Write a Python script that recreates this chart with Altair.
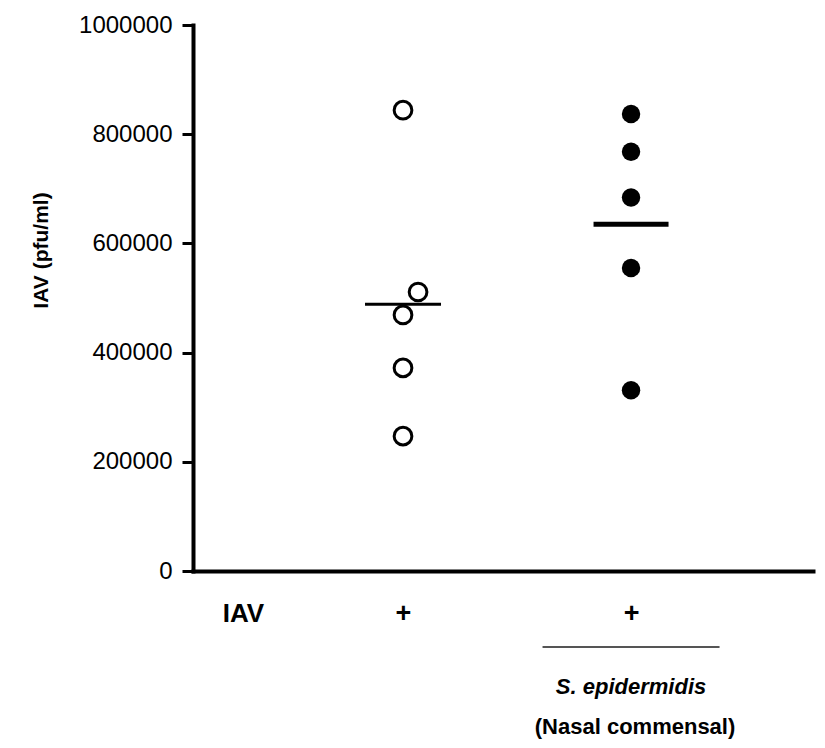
import altair as alt
import pandas as pd

# ---- data ----
iav_only = [844000, 511000, 469000, 372000, 247000]
iav_only_jitter = [0, 0.066, 0, 0, 0]
iav_sepi = [837000, 768000, 684000, 555000, 331000]
y_ticks = [0, 200000, 400000, 600000, 800000, 1000000]
group_ids = [1, 2]
y_title = "IAV (pfu/ml)"
row_label = "IAV"
plus_label = "+"
sub_label_1 = "S. epidermidis"
sub_label_2 = "(Nasal commensal)"

FONT = "Liberation Sans"
W, H = 620, 546

df = pd.DataFrame({
    "group": [group_ids[0]] * len(iav_only) + [group_ids[1]] * len(iav_sepi),
    "value": iav_only + iav_sepi,
    "jitter": iav_only_jitter + [0] * len(iav_sepi),
})

xscale = alt.Scale(domain=[0.079, 2.798], nice=False, zero=False)
yscale = alt.Scale(domain=[0, 1000000], nice=False, zero=True)

base = alt.Chart(df).transform_calculate(xpos="datum.group + datum.jitter")

x_axis = alt.Axis(
    values=group_ids, labelExpr=f"'{plus_label}'", ticks=False, tickSize=0, grid=False,
    domainColor="black", domainWidth=4, domainCap="square",
    labelFont=FONT, labelFontSize=27, labelFontWeight="bold", labelColor="black",
    labelBaseline="middle", labelPadding=42, labelAngle=0,
    title=row_label, titleFont=FONT, titleFontSize=26, titleFontWeight="bold",
    titleColor="black", titleX=50, titleY=42, titleAlign="center", titleBaseline="middle",
)
y_axis = alt.Axis(
    values=y_ticks, format="d", grid=False,
    domainColor="black", domainWidth=4, domainCap="square",
    tickColor="black", tickWidth=3, tickSize=11,
    labelFont=FONT, labelFontSize=24, labelColor="black", labelPadding=10,
    title=y_title, titleFont=FONT, titleFontSize=21, titleFontWeight="bold",
    titleColor="black", titleX=-152, titleY=225, titleAlign="center",
    titleBaseline="middle", titleAngle=270,
)

X = lambda f: alt.X(f, scale=xscale, axis=x_axis)
Y = lambda f: alt.Y(f, scale=yscale, axis=y_axis)

open_pts = base.transform_filter("datum.group == 1").mark_point(
    shape="circle", filled=False, size=314, strokeWidth=3, color="black", opacity=1
).encode(x=X("xpos:Q"), y=Y("value:Q"))

filled_pts = base.transform_filter("datum.group == 2").mark_circle(
    size=340, color="black", opacity=1
).encode(x=X("xpos:Q"), y=Y("value:Q"))

mean1 = base.transform_filter("datum.group == 1").transform_aggregate(
    mean_value="mean(value)", groupby=["group"]
).mark_tick(orient="horizontal", size=76, thickness=3, color="black", opacity=1).encode(
    x=X("group:Q"), y=Y("mean_value:Q"),
)

mean2 = base.transform_filter("datum.group == 2").transform_aggregate(
    mean_value="mean(value)", groupby=["group"]
).mark_tick(orient="horizontal", size=75, thickness=5, color="black", opacity=1).encode(
    x=X("group:Q"), y=Y("mean_value:Q"),
)

ann_df = pd.DataFrame({"group": [group_ids[1]], "l1": [sub_label_1], "l2": [sub_label_2]})

sep = alt.Chart(ann_df).mark_tick(
    orient="horizontal", size=177, thickness=2, color="#555555", opacity=1
).encode(x=X("group:Q"), y=alt.value(622))

txt1 = alt.Chart(ann_df).mark_text(
    font=FONT, fontSize=22, fontWeight="bold", fontStyle="italic",
    color="black", baseline="middle", align="center",
).encode(x=X("group:Q"), y=alt.value(662), text="l1:N")

txt2 = alt.Chart(ann_df).mark_text(
    font=FONT, fontSize=22, fontWeight="bold",
    color="black", baseline="middle", align="center", dx=4,
).encode(x=X("group:Q"), y=alt.value(702), text="l2:N")

chart = alt.layer(open_pts, filled_pts, mean1, mean2, sep, txt1, txt2).properties(
    width=W, height=H,
    autosize=alt.AutoSizeParams(type="none"),
    padding={"left": 185, "top": 17, "right": 4, "bottom": 169},
).configure(font=FONT).configure_view(stroke=None)

chart.save("out.html", embed_options={"renderer": "svg", "actions": False})
